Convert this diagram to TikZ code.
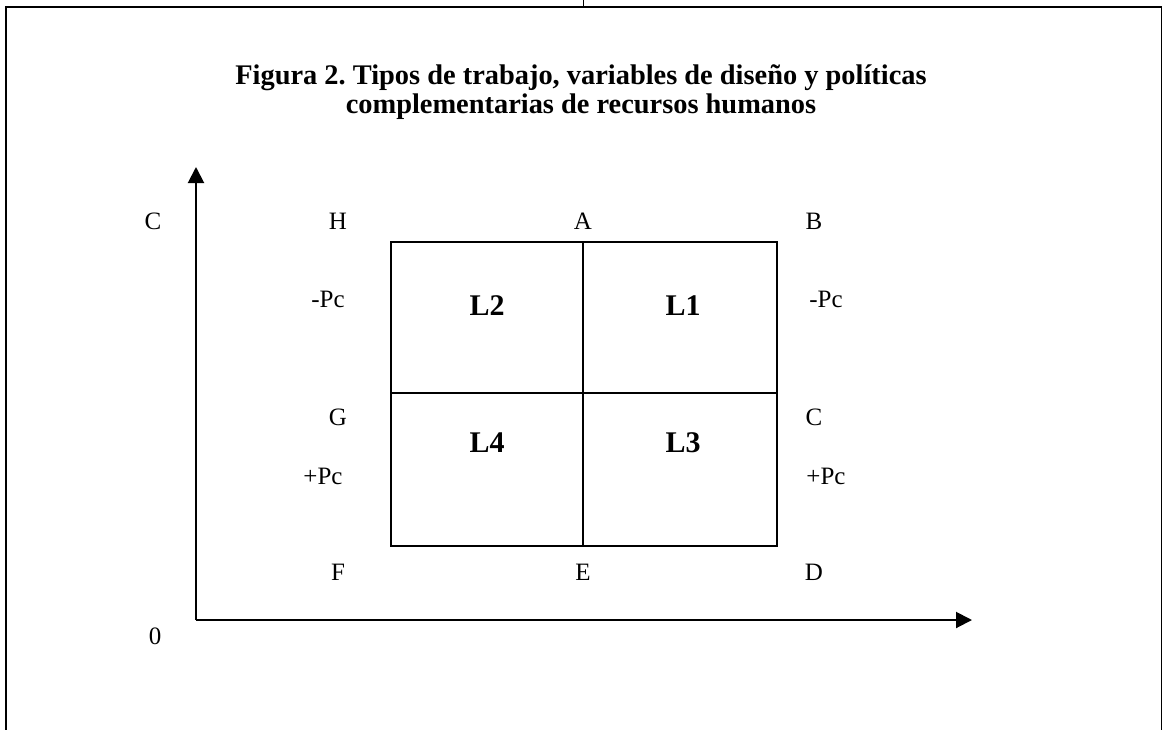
\documentclass[tikz,border=0pt]{standalone}
\usepackage{fontspec}
\setmainfont{Liberation Serif}
\usepackage{tikz}
\usetikzlibrary{arrows.meta}
\frenchspacing

\tikzset{
	lbl/.style={inner sep=0pt,font=\fontsize{12.5}{14}\selectfont},
	quad/.style={inner sep=0pt,font=\fontsize{15}{17}\selectfont\bfseries},
	axis/.style={line width=1pt,-{Triangle[length=8pt,width=8pt]}}
}

\begin{document}
\begin{tikzpicture}[x=0.5pt,y=-0.5pt]
	\useasboundingbox (0,0) rectangle (1163,730);
	% frame
	\draw[line width=1.2pt] (5,7)--(1161.5,7);
	\draw[line width=1.2pt] (6,7)--(6,730);
	\draw[line width=0.5pt] (1161,7)--(1161,730);
	\draw[line width=0.5pt] (583,0)--(583,7);
	% title
	\node[align=center,inner sep=0pt,font=\fontsize{14.2}{14.6}\selectfont\bfseries] (title) at (581,92)
		{Figura 2. Tipos de trabajo, variables de diseño y políticas\\complementarias de recursos humanos};
	% axes
	\coordinate (O) at (196,620);
	\coordinate (ytip) at (196,167);
	\coordinate (xtip) at (972,620);
	\draw[axis] (O)--(ytip);
	\draw[axis] (O)--(xtip);
	% box
	\draw[line width=1pt] (391,242) rectangle (777,546);
	\draw[line width=1pt] (583,242)--(583,546);
	\draw[line width=1pt] (391,393)--(777,393);
	\node[quad] (l2) at (487,306) {L2};
	\node[quad] (l1) at (683,306) {L1};
	\node[quad] (l4) at (487,443) {L4};
	\node[quad] (l3) at (683,443) {L3};
	% labels
	\node[lbl] (yC) at (153,221) {C};
	\node[lbl] (zero) at (155,636) {0};
	\node[lbl] (H) at (338,221) {H};
	\node[lbl] (A) at (583,221) {A};
	\node[lbl] (B) at (814,221) {B};
	\node[lbl] (pcHL) at (328,299) {-Pc};
	\node[lbl] (pcHR) at (826,299) {-Pc};
	\node[lbl] (G) at (338,417) {G};
	\node[lbl] (C) at (814,417) {C};
	\node[lbl] (pcLL) at (323,476) {+Pc};
	\node[lbl] (pcLR) at (826,476) {+Pc};
	\node[lbl] (F) at (338,572) {F};
	\node[lbl] (E) at (583,572) {E};
	\node[lbl] (D) at (814,572) {D};
\end{tikzpicture}
\end{document}
